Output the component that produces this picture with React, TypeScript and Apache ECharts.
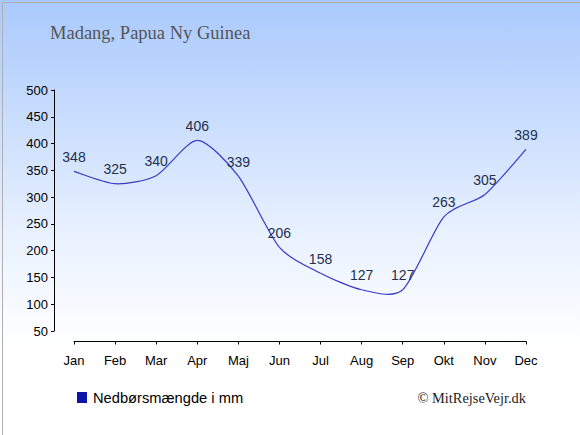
import React, { useEffect, useRef } from "react";
import * as echarts from "echarts";

const months = ["Jan", "Feb", "Mar", "Apr", "Maj", "Jun", "Jul", "Aug", "Sep", "Okt", "Nov", "Dec"];
const rainfall = [348, 325, 340, 406, 339, 206, 158, 127, 127, 263, 305, 389];
const titleText = "Madang, Papua Ny Guinea";
const legendText = "Nedbørsmængde i mm";
const creditText = "© MitRejseVejr.dk";

const SANS = "'Liberation Sans', Arial, sans-serif";
const SERIF = "'Liberation Serif', 'Times New Roman', serif";

export default function App() {
  const ref = useRef<HTMLDivElement>(null);
  useEffect(() => {
    document.body.style.margin = "0";
    const chart = echarts.init(ref.current!, undefined, { renderer: "svg" });
    const renderSegment = (params: any, api: any) => {
      const i = params.dataIndex;
      if (i >= rainfall.length - 1) return { type: "group", children: [] };
      const pt = (k: number) => {
        const kk = Math.max(0, Math.min(rainfall.length - 1, k));
        return api.coord([kk, rainfall[kk]]);
      };
      const p0 = pt(i - 1);
      const p1 = pt(i);
      const p2 = pt(i + 1);
      const p3 = pt(i + 2);
      const f = 8;
      return {
        type: "bezierCurve",
        shape: {
          x1: p1[0],
          y1: p1[1],
          cpx1: p1[0] + (p2[0] - p0[0]) / f,
          cpy1: p1[1] + (p2[1] - p0[1]) / f,
          cpx2: p2[0] - (p3[0] - p1[0]) / f,
          cpy2: p2[1] - (p3[1] - p1[1]) / f,
          x2: p2[0],
          y2: p2[1],
        },
        style: { stroke: "#3838c8", lineWidth: 1.2, fill: "none" },
      };
    };
    chart.setOption({
      animation: false,
      backgroundColor: {
        type: "linear",
        x: 0, y: 0, x2: 0, y2: 1,
        colorStops: [
          { offset: 0, color: "#a9c9fd" },
          { offset: 0.55, color: "#eaf2ff" },
          { offset: 0.8, color: "#ffffff" },
          { offset: 1, color: "#ffffff" },
        ],
      },
      title: {
        text: titleText,
        left: 45,
        top: 18,
        textStyle: {
          fontFamily: SERIF,
          fontSize: 18.5,
          fontWeight: "normal",
          color: "#555555",
        },
      },
      grid: { left: 74, right: 54, top: 90, bottom: 104 },
      xAxis: {
        type: "category",
        data: months,
        boundaryGap: false,
        offset: 10.5,
        axisLine: { lineStyle: { color: "#000", width: 1 } },
        axisTick: { show: true, length: 3, inside: false, alignWithLabel: true },
        axisLabel: { color: "#000", fontSize: 13, fontFamily: SANS, margin: 12 },
        splitLine: { show: false },
      },
      yAxis: {
        type: "value",
        min: 50,
        max: 500,
        interval: 50,
        offset: 20,
        axisLine: { show: true, lineStyle: { color: "#000", width: 1 } },
        axisTick: { show: true, length: 3 },
        axisLabel: { color: "#000", fontSize: 13, fontFamily: SANS, margin: 6 },
        splitLine: { show: false },
      },
      series: [
        {
          type: "custom",
          data: rainfall.map((v, i) => [i, v]),
          renderItem: renderSegment,
          silent: true,
          z: 2,
        },
        {
          type: "scatter",
          data: rainfall,
          symbolSize: 1,
          itemStyle: { color: "transparent", opacity: 1 },
          silent: true,
          z: 3,
          label: {
            show: true,
            position: "top",
            distance: 7,
            color: "#1f2f4f",
            opacity: 1,
            fontSize: 14,
            fontFamily: SANS,
          },
        },
      ],
      graphic: [
        {
          type: "rect",
          left: 0,
          top: 0,
          shape: { x: 0.5, y: 0.5, width: 579, height: 434 },
          style: { fill: "none", stroke: "#b0b0b0", lineWidth: 1 },
          silent: true,
        },
        {
          type: "rect",
          shape: { x: 77, y: 392, width: 10, height: 11 },
          style: { fill: "#0a14a8" },
        },
        {
          type: "text",
          x: 93,
          y: 398,
          style: {
            text: legendText,
            fill: "#000",
            fontSize: 14.7,
            fontFamily: SANS,
            verticalAlign: "middle",
          },
        },
        {
          type: "text",
          x: 526,
          y: 398,
          style: {
            text: creditText,
            fill: "#222",
            fontSize: 14.4,
            fontFamily: SERIF,
            align: "right",
            verticalAlign: "middle",
          },
        },
      ],
    });
    return () => chart.dispose();
  }, []);
  return <div ref={ref} style={{ width: 580, height: 435 }} />;
}
